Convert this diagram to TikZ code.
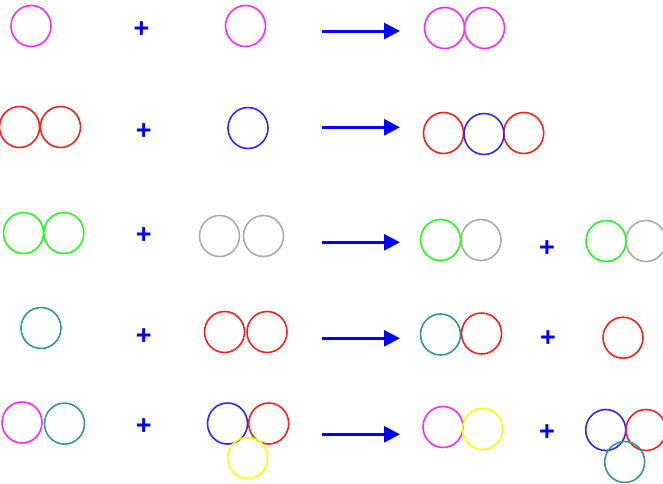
\documentclass[tikz,border=0pt]{standalone}
\usepackage{fontspec}
\setmainfont{Liberation Sans}
\usetikzlibrary{shapes.geometric,arrows.meta}
\definecolor{cmag}{RGB}{255,40,255}
\definecolor{cred}{RGB}{255,30,30}
\definecolor{cblue}{RGB}{40,40,255}
\definecolor{cgreen}{RGB}{30,255,30}
\definecolor{cgray}{RGB}{170,170,170}
\definecolor{cteal}{RGB}{50,150,150}
\definecolor{cyel}{RGB}{255,255,0}
\definecolor{cplus}{RGB}{0,0,255}
\tikzset{
  atom/.style={ellipse, draw, line width=1.6pt, minimum width=40pt, minimum height=41pt, inner sep=0pt},
  plus/.style={text=cplus, font=\fontsize{27}{27}\selectfont\bfseries, inner sep=0pt, yshift=-2pt},
  react/.style={draw=cplus, line width=3pt, -{Triangle[length=16pt,width=16pt]}, shorten >=0pt}
}
\begin{document}
\begin{tikzpicture}[x=1pt,y=-1pt]
\useasboundingbox (0,0) rectangle (663,483);
% Row 1
\node[atom,draw=cmag] (r1a) at (31,26) {};
\node[plus] (r1p) at (141.5,28) {+};
\node[atom,draw=cmag] (r1b) at (245.5,26) {};
\coordinate (r1s) at (322,31);
\coordinate (r1e) at (400,31);
\draw[react] (r1s) -- (r1e);
\node[atom,draw=cmag] (r1c) at (444.5,28) {};
\node[atom,draw=cmag] (r1d) at (484.5,28) {};
% Row 2
\node[atom,draw=cred] (r2a) at (19.5,127) {};
\node[atom,draw=cred] (r2b) at (60.5,127) {};
\node[plus] (r2p) at (143.7,130) {+};
\node[atom,draw=cblue] (r2c) at (248,128) {};
\coordinate (r2s) at (322,127.3);
\coordinate (r2e) at (400,127.3);
\draw[react] (r2s) -- (r2e);
\node[atom,draw=cred] (r2d) at (443.5,133) {};
\node[atom,draw=cred] (r2f) at (523.7,133) {};
\node[atom,draw=cblue] (r2g) at (484,134) {};
% Row 3
\node[atom,draw=cgreen] (r3a) at (23.5,233) {};
\node[atom,draw=cgreen] (r3b) at (63.8,233) {};
\node[plus] (r3p) at (143.7,234) {+};
\node[atom,draw=cgray] (r3c) at (219.5,236) {};
\node[atom,draw=cgray] (r3d) at (263.5,236) {};
\coordinate (r3s) at (322,242.3);
\coordinate (r3e) at (400,242.3);
\draw[react] (r3s) -- (r3e);
\node[atom,draw=cgray] (r3f) at (481,240) {};
\node[atom,draw=cgreen] (r3g) at (440.5,240) {};
\node[plus] (r3q) at (547,246.5) {+};
\node[atom,draw=cgray] (r3i) at (646,241) {};
\node[atom,draw=cgreen] (r3h) at (606,241) {};
% Row 4
\node[atom,draw=cteal] (r4a) at (41,328) {};
\node[plus] (r4p) at (143.7,335) {+};
\node[atom,draw=cred] (r4b) at (224.5,332) {};
\node[atom,draw=cred] (r4c) at (267,332) {};
\coordinate (r4s) at (322,338.3);
\coordinate (r4e) at (400,338.3);
\draw[react] (r4s) -- (r4e);
\node[atom,draw=cteal] (r4d) at (440.5,334.5) {};
\node[atom,draw=cred] (r4f) at (481.5,333.5) {};
\node[plus] (r4q) at (548,336.7) {+};
\node[atom,draw=cred] (r4g) at (623,337.7) {};
% Row 5
\node[atom,draw=cmag] (r5a) at (22,422.5) {};
\node[atom,draw=cteal] (r5b) at (64.5,423.6) {};
\node[plus] (r5p) at (143.7,424.5) {+};
\node[atom,draw=cblue] (r5c) at (227.5,423.5) {};
\node[atom,draw=cred] (r5d) at (268.7,423.5) {};
\node[atom,draw=cyel] (r5f) at (247.6,458) {};
\coordinate (r5s) at (322,434.3);
\coordinate (r5e) at (400,434.3);
\draw[react] (r5s) -- (r5e);
\node[atom,draw=cmag] (r5g) at (443,427) {};
\node[atom,draw=cyel] (r5h) at (482.5,429) {};
\node[plus] (r5q) at (547,430.7) {+};
\node[atom,draw=cblue] (r5i) at (605.7,430) {};
\node[atom,draw=cred] (r5j) at (646,430) {};
\node[atom,draw=cteal] (r5k) at (624.7,462) {};
\end{tikzpicture}
\end{document}
